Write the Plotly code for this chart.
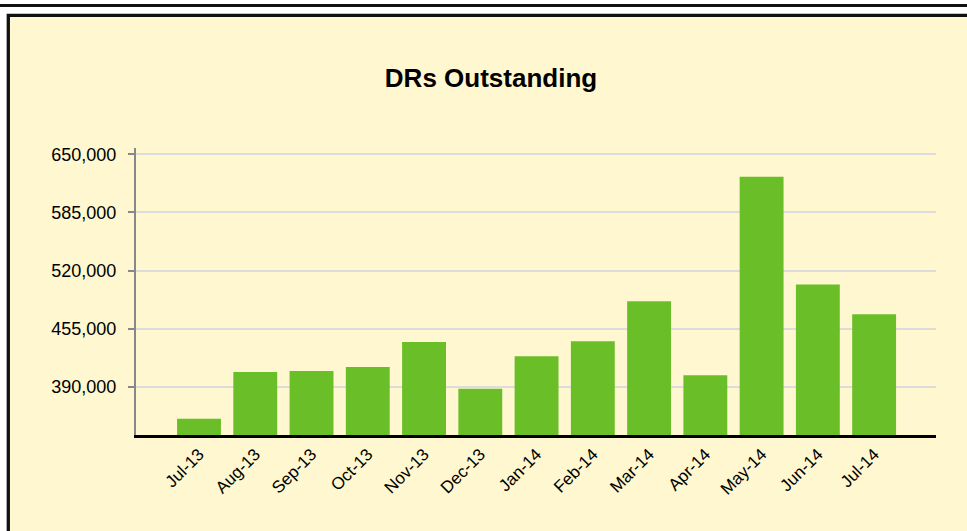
import plotly.graph_objects as go

months = ["Jul-13", "Aug-13", "Sep-13", "Oct-13", "Nov-13", "Dec-13",
          "Jan-14", "Feb-14", "Mar-14", "Apr-14", "May-14", "Jun-14", "Jul-14"]
drs_outstanding = [354400, 406700, 407800, 412300, 440100, 387800,
                   424200, 441000, 485600, 403000, 624900, 504500, 471100]
y_tick_values = [390000, 455000, 520000, 585000, 650000]
y_tick_labels = ["390,000", "455,000", "520,000", "585,000", "650,000"]

W, H = 967, 531
ML, MR, MT, MB = 136, 31, 148, 96
PW, PH = W - ML - MR, H - MT - MB


def px_x(p):
    return (p - ML) / PW


def px_y(p):
    return (H - MB - p) / PH


CREAM = "#FEF7CF"
GREEN = "#6ABE28"
FONT = "Liberation Sans, Arial, sans-serif"

fig = go.Figure(
    go.Bar(
        x=months,
        y=drs_outstanding,
        marker=dict(color=GREEN, line=dict(width=0)),
        hoverinfo="x+y",
    )
)

fig.update_layout(
    width=W,
    height=H,
    margin=dict(l=ML, r=MR, t=MT, b=MB, pad=0),
    paper_bgcolor="white",
    plot_bgcolor="rgba(0,0,0,0)",
    bargap=0.22,
    showlegend=False,
    font=dict(family=FONT, color="black"),
    title=dict(
        text="<b>DRs Outstanding</b>",
        x=491 / W,
        xanchor="center",
        xref="container",
        y=1 - 78 / H,
        yref="container",
        yanchor="middle",
        font=dict(family=FONT, size=26, color="black"),
    ),
    shapes=[
        dict(type="rect", xref="paper", yref="paper", layer="below",
             x0=px_x(8.3), x1=px_x(990), y0=px_y(15.3), y1=px_y(560),
             fillcolor=CREAM, line=dict(color="#111111", width=3.3)),
        dict(type="line", xref="paper", yref="paper", layer="below",
             x0=px_x(-5), x1=px_x(980), y0=px_y(5.5), y1=px_y(5.5),
             line=dict(color="#111111", width=3.2)),
    ],
)

fig.update_xaxes(
    type="category",
    range=[-1.12, 13.1],
    showgrid=False,
    showline=True,
    linecolor="black",
    linewidth=2.5,
    ticks="",
    tickangle=-45,
    tickfont=dict(family=FONT, size=17, color="black"),
    fixedrange=True,
)

fig.update_yaxes(
    range=[336150, 657000],
    tickvals=y_tick_values,
    ticktext=y_tick_labels,
    showgrid=True,
    gridcolor="#DCDCDC",
    gridwidth=1.5,
    zeroline=False,
    showline=True,
    linecolor="#888888",
    linewidth=2,
    ticks="outside",
    ticklen=6,
    tickwidth=2,
    tickcolor="#888888",
    ticklabelstandoff=8,
    tickfont=dict(family=FONT, size=18, color="black"),
    fixedrange=True,
)

fig.write_html(
    "out.html",
    config={"displayModeBar": False},
    post_script="document.body.style.margin='0';document.body.style.overflow='hidden';",
)
